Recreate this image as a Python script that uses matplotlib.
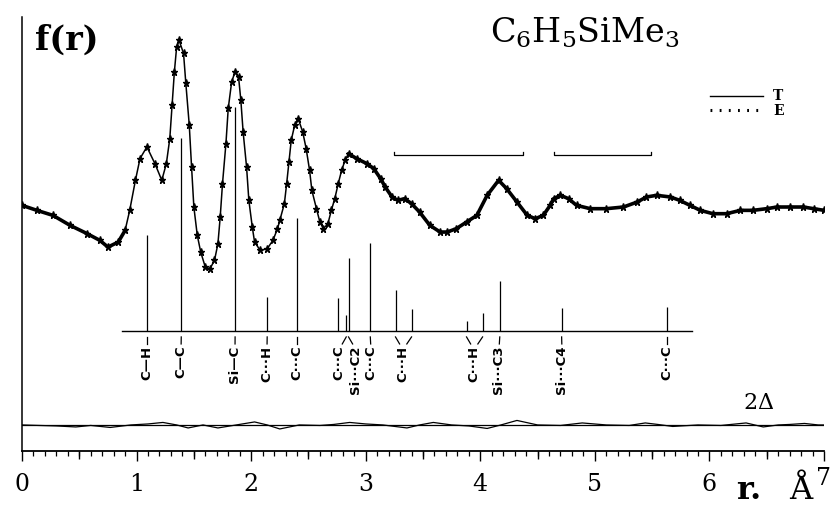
import matplotlib
matplotlib.use("Agg")
import matplotlib.pyplot as plt
from matplotlib.lines import Line2D
import numpy as np

# ---------------- data ----------------
r_curve = [0.00, 0.13, 0.27, 0.42, 0.57, 0.68, 0.75, 0.84, 0.90, 0.94, 0.99, 1.03, 1.09,
           1.16, 1.22, 1.26, 1.29, 1.31, 1.33, 1.35, 1.37, 1.41, 1.43, 1.46, 1.48, 1.50,
           1.53, 1.56, 1.60, 1.64, 1.68, 1.71, 1.73, 1.75, 1.78, 1.80, 1.83, 1.86, 1.89,
           1.91, 1.93, 1.96, 1.98, 2.01, 2.03, 2.08, 2.14, 2.19, 2.23, 2.25, 2.29, 2.31,
           2.33, 2.35, 2.38, 2.41, 2.45, 2.48, 2.51, 2.53, 2.57, 2.60, 2.63, 2.67, 2.70,
           2.73, 2.76, 2.79, 2.82, 2.85, 2.92, 3.01, 3.07, 3.13, 3.17, 3.23, 3.28, 3.34,
           3.40, 3.47, 3.56, 3.65, 3.71, 3.79, 3.88, 3.97, 4.06, 4.16, 4.23, 4.32, 4.41,
           4.48, 4.55, 4.61, 4.64, 4.70, 4.77, 4.84, 4.96, 5.10, 5.25, 5.37, 5.45, 5.54,
           5.66, 5.74, 5.83, 5.92, 6.03, 6.15, 6.27, 6.38, 6.50, 6.59, 6.70, 6.82, 6.91,
           7.00]
f_curve = [0.01, -0.02, -0.05, -0.11, -0.16, -0.20, -0.24, -0.21, -0.14, -0.02, 0.16, 0.29, 0.36,
           0.26, 0.16, 0.26, 0.41, 0.61, 0.81, 0.96, 1.00, 0.92, 0.74, 0.49, 0.24, 0.00,
           -0.17, -0.27, -0.36, -0.37, -0.32, -0.22, -0.06, 0.14, 0.38, 0.59, 0.75, 0.81, 0.78,
           0.64, 0.45, 0.24, 0.04, -0.12, -0.21, -0.26, -0.25, -0.20, -0.13, -0.08, 0.02, 0.14,
           0.27, 0.40, 0.49, 0.53, 0.45, 0.35, 0.22, 0.10, -0.01, -0.09, -0.13, -0.10, -0.02,
           0.05, 0.14, 0.22, 0.28, 0.32, 0.29, 0.26, 0.23, 0.17, 0.12, 0.06, 0.04, 0.05,
           0.02, -0.03, -0.11, -0.15, -0.15, -0.13, -0.09, -0.05, 0.07, 0.16, 0.11, 0.03, -0.05,
           -0.07, -0.05, 0.01, 0.05, 0.07, 0.05, 0.01, -0.01, -0.01, 0.00, 0.03, 0.06, 0.07,
           0.06, 0.04, 0.01, -0.02, -0.04, -0.04, -0.02, -0.02, -0.01, 0.00, 0.00, 0.00, -0.01,
           -0.02]

r_diff = [0.0, 0.15, 0.3, 0.47, 0.6, 0.77, 0.95, 1.1, 1.23, 1.35, 1.45, 1.58, 1.71, 1.87,
          2.03, 2.14, 2.25, 2.42, 2.6, 2.72, 2.86, 3.0, 3.15, 3.36, 3.47, 3.59, 3.75, 3.9,
          4.06, 4.18, 4.32, 4.5, 4.7, 4.89, 5.1, 5.3, 5.44, 5.55, 5.68, 5.9, 6.1, 6.32,
          6.47, 6.6, 6.7, 6.83, 6.95, 7.0]
d_diff = [0, -0.003, -0.006, -0.012, -0.003, -0.015, 0, 0.006, 0.015, 0, -0.018, 0, -0.018, 0,
          0.018, 0, -0.024, 0, -0.003, 0.003, 0.015, 0.006, 0, -0.018, 0, 0.015, 0, -0.006,
          -0.021, 0, 0.027, 0, -0.003, 0.012, 0, -0.003, 0.012, 0.003, -0.009, 0, -0.003, 0.012,
          -0.012, 0, 0.003, 0.009, 0, 0]

stick_r = [1.088, 1.39, 1.86, 2.14, 2.40, 2.76, 2.83, 2.85, 3.04, 3.26, 3.40, 3.88, 4.02,
           4.17, 4.71, 5.63]
stick_h = [0.575, 1.156, 1.341, 0.204, 0.677, 0.198, 0.096, 0.437, 0.527, 0.246, 0.132,
           0.060, 0.108, 0.299, 0.138, 0.144]

label_text = ["C—H", "C—C", "Si—C", "C···H", "C···C", "C···C", "Si···C2", "C···C",
              "C···H", "C···H", "Si···C3", "Si···C4", "C···C"]
label_r = [1.088, 1.388, 1.859, 2.138, 2.400, 2.767, 2.915, 3.046, 3.325, 3.945, 4.163,
           4.713, 5.630]
label_links = [[1.088], [1.39], [1.86], [2.14], [2.40], [2.83], [2.85], [3.04],
               [3.26, 3.40], [3.88, 4.02], [4.17], [4.71], [5.63]]

bracket_ranges = [(3.25, 4.37), (4.64, 5.49)]
stick_span = (0.873, 5.85)
x_major = [0, 1, 2, 3, 4, 5, 6, 7]

# ---------------- layout constants ----------------
F_OFFSET = 1.461
STICK_BASE = 0.719
DIFF_BASE = 0.156
BRACKET_Y = 1.772
CONN_TOP = 0.683
CONN_BOT = 0.641
LABEL_TOP = 0.632
DENSE_ZONES = [(0.0, 0.9), (2.84, 7.0)]   # where the E points merge into a thick trace

W, H = 837, 507
fig = plt.figure(figsize=(W / 100, H / 100), dpi=100)
ax = fig.add_axes([22 / W, 56 / H, 802 / W, 434 / H])
ax.set_xlim(0, 7)
ax.set_ylim(0, 434 / 167)

for s in ["top", "right"]:
    ax.spines[s].set_visible(False)
ax.spines["left"].set_linewidth(1.1)
ax.spines["bottom"].set_linewidth(1.3)
ax.tick_params(axis="y", left=False, labelleft=False)

ax.set_xticks(x_major)
ax.set_xticklabels([str(v) for v in x_major], fontsize=17, family="DejaVu Serif")
ax.set_xticks([i / 10 for i in range(71)], minor=True)
ax.tick_params(axis="x", which="major", direction="out", length=7.5, width=1.0, pad=8)
ax.tick_params(axis="x", which="minor", direction="out", length=3.6, width=0.9)
sec = ax.secondary_xaxis("bottom")
sec.set_xticks([0.5 + i for i in range(7)])
sec.set_xticklabels([])
sec.tick_params(direction="out", length=5.5, width=1.0)
sec.spines["bottom"].set_visible(False)
# the "7" label sits a little higher in the reference
ax.get_xticklabels()[-1].set_y(0.012)

# main curves
rc = np.array(r_curve)
yc = np.array(f_curve) + F_OFFSET
ax.plot(rc, yc, color="black", lw=1.1, zorder=3)
for a, b in DENSE_ZONES:
    m = (rc >= a) & (rc <= b)
    ax.plot(rc[m], yc[m], color="black", lw=2.6, solid_capstyle="round", zorder=3)
ax.plot(rc, yc, ls="none", marker="*", ms=5.2, color="black", zorder=4)

# stick spectrum
ax.plot(stick_span, [STICK_BASE, STICK_BASE], color="black", lw=1.0)
ax.vlines(stick_r, STICK_BASE, [STICK_BASE + h for h in stick_h], color="black", lw=0.9)

for txt, lr, links in zip(label_text, label_r, label_links):
    for sr in links:
        ax.plot([sr, sr + 0.55 * (lr - sr)], [CONN_TOP, CONN_BOT], color="black", lw=0.9)
    ax.text(lr, LABEL_TOP, txt, rotation=90, ha="center", va="top", fontsize=9.5,
            family="DejaVu Sans", fontweight="bold")

# brackets
for a, b in bracket_ranges:
    ax.plot([a, a, b, b], [BRACKET_Y + 0.02, BRACKET_Y, BRACKET_Y, BRACKET_Y + 0.02],
            color="black", lw=0.9)

# difference curve
ax.plot([0, 7], [DIFF_BASE, DIFF_BASE], color="black", lw=0.9)
ax.plot(r_diff, [v + DIFF_BASE for v in d_diff], color="black", lw=0.9)

# legend
h_T = Line2D([], [], color="black", lw=1.0)
h_E = Line2D([], [], color="black", lw=2.2, ls=(0, (0.6, 2.4)))
ax.legend([h_T, h_E], ["T", "E"], loc="upper right", bbox_to_anchor=(0.965, 0.862),
          frameon=False, handlelength=3.8, handletextpad=0.7, labelspacing=0.05,
          prop={"family": "DejaVu Serif", "weight": "bold", "size": 10})

# texts
def ftext(x, y, s, **kw):
    fig.text(x / W, 1 - y / H, s, **kw)

plt.rcParams["mathtext.fontset"] = "dejavuserif"
ftext(35, 50, "f(r)", fontsize=24, family="DejaVu Serif", fontweight="bold", va="baseline")
ftext(585, 43, r"C$_6$H$_5$SiMe$_3$", fontsize=24, family="DejaVu Serif", ha="center",
      va="baseline")
ftext(759, 409, r"2$\mathit{\Delta}$", fontsize=16, family="DejaVu Serif", ha="center",
      va="baseline")
ftext(736, 506, "r.", fontsize=23, family="DejaVu Serif", fontweight="bold", va="bottom")
ftext(801, 506, "Å", fontsize=23, family="DejaVu Serif", ha="center", va="bottom")

fig.savefig("out.png", dpi=100)
